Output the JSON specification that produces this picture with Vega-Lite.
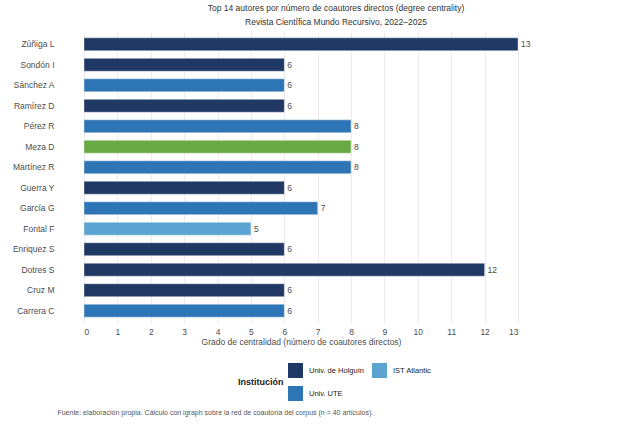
{
  "$schema": "https://vega.github.io/schema/vega-lite/v6.json",
  "background": "white",
  "padding": {"left": 12, "top": 4, "right": 5, "bottom": 5},
  "title": {
    "text": "Fuente: elaboración propia. Cálculo con igraph sobre la red de coautoría del corpus (n = 40 artículos).",
    "orient": "bottom",
    "anchor": "start",
    "fontSize": 7,
    "fontWeight": "normal",
    "color": "#555555",
    "font": "Liberation Sans",
    "offset": 8,
    "dx": 45
  },
  "data": {
    "values": [
      {"autor": "Zúñiga L", "grado": 13, "inst": "Univ. de Holguín"},
      {"autor": "Sondón I", "grado": 6, "inst": "Univ. de Holguín"},
      {"autor": "Sánchez A", "grado": 6, "inst": "Univ. UTE"},
      {"autor": "Ramírez D", "grado": 6, "inst": "Univ. de Holguín"},
      {"autor": "Pérez R", "grado": 8, "inst": "Univ. UTE"},
      {"autor": "Meza D", "grado": 8, "inst": "Otra"},
      {"autor": "Martínez R", "grado": 8, "inst": "Univ. UTE"},
      {"autor": "Guerra Y", "grado": 6, "inst": "Univ. de Holguín"},
      {"autor": "García G", "grado": 7, "inst": "Univ. UTE"},
      {"autor": "Fontal F", "grado": 5, "inst": "IST Atlantic"},
      {"autor": "Enriquez S", "grado": 6, "inst": "Univ. de Holguín"},
      {"autor": "Dotres S", "grado": 12, "inst": "Univ. de Holguín"},
      {"autor": "Cruz M", "grado": 6, "inst": "Univ. de Holguín"},
      {"autor": "Carrera C", "grado": 6, "inst": "Univ. UTE"}
    ]
  },
  "vconcat": [
    {
      "width": 434,
      "height": 291,
      "title": {
        "text": "Top 14 autores por número de coautores directos (degree centrality)",
        "subtitle": "Revista Científica Mundo Recursivo, 2022–2025",
        "anchor": "middle",
        "fontSize": 8.5,
        "subtitleFontSize": 8.5,
        "fontWeight": "normal",
        "color": "#333333",
        "subtitleColor": "#333333",
        "font": "Liberation Sans",
        "subtitleFont": "Liberation Sans",
        "subtitlePadding": 5,
        "offset": 6,
        "dx": 35
      },
      "encoding": {
        "y": {
          "field": "autor",
          "type": "nominal",
          "sort": null,
          "scale": {"paddingInner": 0.37, "paddingOuter": 0.285},
          "axis": {
            "title": null,
            "ticks": false,
            "domain": false,
            "grid": false,
            "labelPadding": 30,
            "labelFontSize": 8.5,
            "labelColor": "#4d4d4d",
            "labelFont": "Liberation Sans"
          }
        },
        "x": {
          "field": "grado",
          "type": "quantitative",
          "scale": {"domain": [0, 13], "nice": false},
          "axis": {
            "title": "Grado de centralidad (número de coautores directos)",
            "values": [0, 1, 2, 3, 4, 5, 6, 7, 8, 9, 10, 11, 12, 13],
            "ticks": false,
            "domain": false,
            "grid": true,
            "gridColor": "#ebebeb",
            "gridWidth": 1,
            "labelPadding": 4,
            "labelFontSize": 8.5,
            "labelColor": "#4d4d4d",
            "labelFont": "Liberation Sans",
            "titleFontSize": 8.5,
            "titleFontWeight": "normal",
            "titleColor": "#4d4d4d",
            "titleFont": "Liberation Sans",
            "titlePadding": 2
          }
        }
      },
      "layer": [
        {
          "mark": {"type": "bar", "stroke": "white", "strokeWidth": 0.4},
          "encoding": {
            "color": {
              "field": "inst",
              "type": "nominal",
              "scale": {
                "domain": ["Univ. de Holguín", "IST Atlantic", "Univ. UTE", "Otra"],
                "range": ["#1f3864", "#5ba3d0", "#2e75b6", "#6aaa44"]
              },
              "legend": {
                "title": "Institución",
                "values": ["Univ. de Holguín", "IST Atlantic", "Univ. UTE"],
                "orient": "none",
                "legendX": 154,
                "legendY": 331,
                "direction": "horizontal",
                "columns": 2,
                "columnPadding": 8,
                "rowPadding": 8,
                "symbolType": "square",
                "symbolSize": 225,
                "symbolStrokeWidth": 0,
                "symbolOpacity": 1,
                "labelFontSize": 7.5,
                "labelColor": "#222222",
                "labelFont": "Liberation Sans",
                "labelOffset": 6,
                "titleOrient": "left",
                "titleAnchor": "middle",
                "titleBaseline": "middle",
                "titleFontSize": 9,
                "titleFontWeight": "bold",
                "titleColor": "#222222",
                "titleFont": "Liberation Sans",
                "titlePadding": 4
              }
            }
          }
        },
        {
          "mark": {
            "type": "text",
            "align": "left",
            "baseline": "middle",
            "dx": 3,
            "fontSize": 8.5,
            "color": "#4d4d4d",
            "font": "Liberation Sans"
          },
          "encoding": {"text": {"field": "grado", "type": "quantitative"}}
        }
      ]
    }
  ],
  "config": {"view": {"stroke": null}, "font": "Liberation Sans"}
}
